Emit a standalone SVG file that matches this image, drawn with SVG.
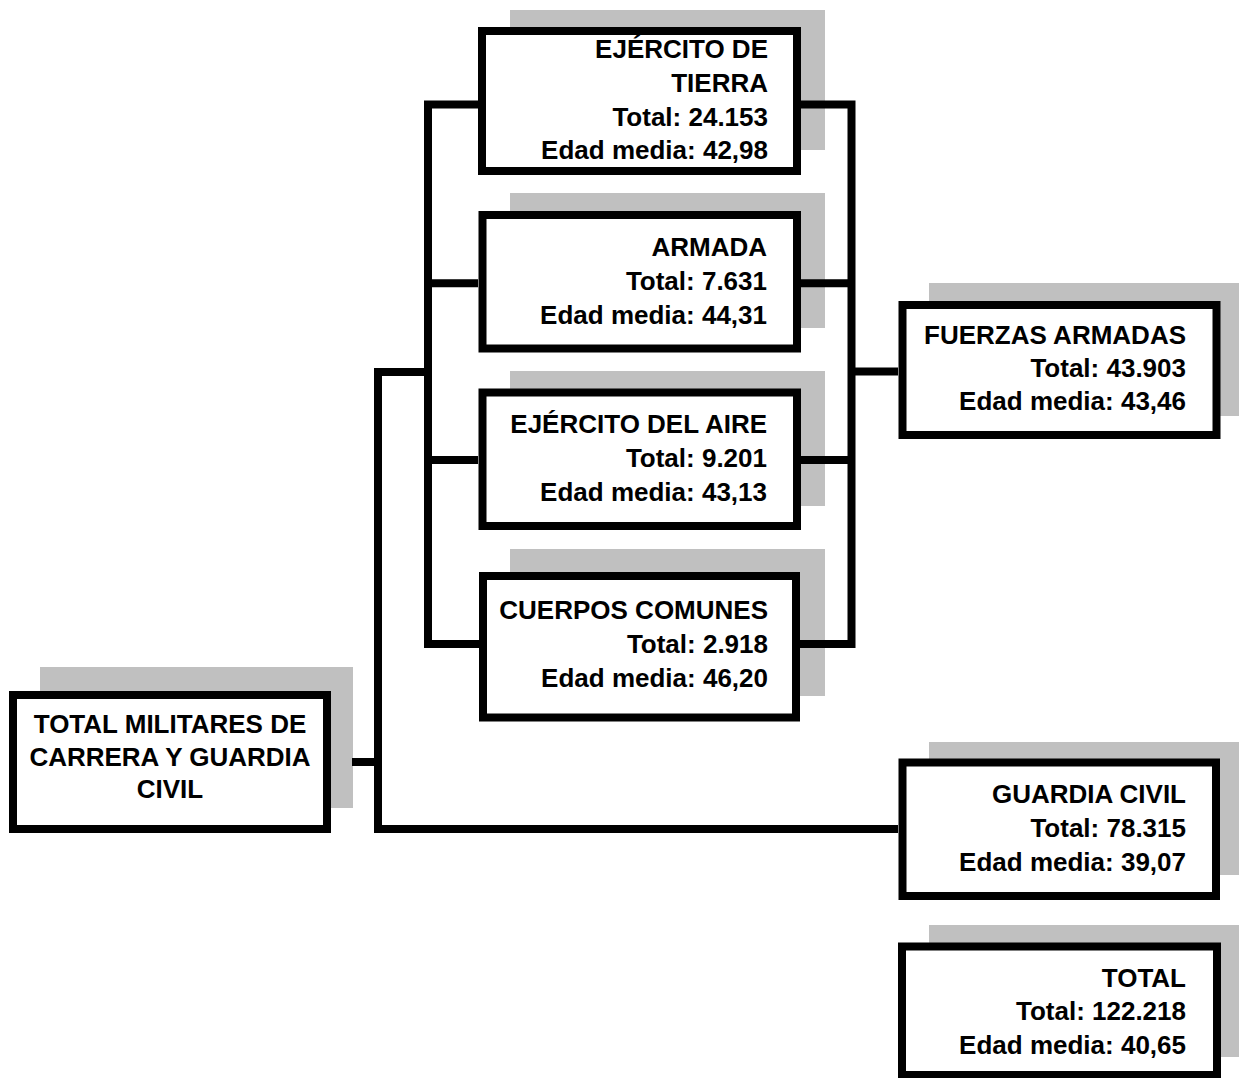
<svg xmlns="http://www.w3.org/2000/svg" width="1239" height="1078" viewBox="0 0 1239 1078">
<style>
.sh{fill:#c0c0c0}
.bx{fill:#fff;stroke:#000;stroke-width:8;stroke-linejoin:miter}
.t{font-family:"Liberation Sans",Arial,sans-serif;font-weight:bold;font-size:26px;fill:#000}
.r{text-anchor:end}
.c{text-anchor:middle}
.cn{fill:none;stroke:#000;stroke-width:8;stroke-linejoin:miter;stroke-linecap:butt}
</style>
<rect width="1239" height="1078" fill="#fff"/>
<g id="shadows">
<rect class="sh" x="510" y="10" width="315" height="140"/>
<rect class="sh" x="510" y="193" width="315" height="135"/>
<rect class="sh" x="510" y="371" width="315" height="135"/>
<rect class="sh" x="510" y="549" width="315" height="147"/>
<rect class="sh" x="40" y="667" width="313" height="141"/>
<rect class="sh" x="929" y="283" width="310" height="133"/>
<rect class="sh" x="929" y="742" width="310" height="133"/>
<rect class="sh" x="929" y="925" width="310" height="132"/>
</g>
<g id="connectors">
<path class="cn" d="M478 104.5H428V644H479"/>
<path class="cn" d="M428 283.3H478M428 460H478"/>
<path class="cn" d="M801 104.5H851.5V644H800"/>
<path class="cn" d="M801 283.3H851.5M801 460H851.5"/>
<path class="cn" d="M851.5 371.5H898"/>
<path class="cn" d="M428 372H378V829H898"/>
<path class="cn" d="M352 762H378"/>
</g>
<g id="tierra">
<rect class="bx" x="482" y="31" width="315" height="140"/>
<text class="t r" x="768" y="58.3">EJÉRCITO DE</text>
<text class="t r" x="768" y="91.9">TIERRA</text>
<text class="t r" x="768" y="125.5">Total: 24.153</text>
<text class="t r" x="768" y="159.1">Edad media: 42,98</text>
</g>
<g id="armada">
<rect class="bx" x="482.5" y="215" width="314.5" height="133.5"/>
<text class="t r" x="767" y="256">ARMADA</text>
<text class="t r" x="767" y="290">Total: 7.631</text>
<text class="t r" x="767" y="324">Edad media: 44,31</text>
</g>
<g id="aire">
<rect class="bx" x="482.5" y="392.5" width="314.5" height="133.5"/>
<text class="t r" x="767" y="433">EJÉRCITO DEL AIRE</text>
<text class="t r" x="767" y="467">Total: 9.201</text>
<text class="t r" x="767" y="501">Edad media: 43,13</text>
</g>
<g id="comunes">
<rect class="bx" x="483" y="576" width="313" height="141.5"/>
<text class="t r" x="768" y="619">CUERPOS COMUNES</text>
<text class="t r" x="768" y="652.5">Total: 2.918</text>
<text class="t r" x="768" y="686.5">Edad media: 46,20</text>
</g>
<g id="total-militares">
<rect class="bx" x="13" y="695" width="314" height="134"/>
<text class="t c" x="170" y="733">TOTAL MILITARES DE</text>
<text class="t c" x="170" y="765.5">CARRERA Y GUARDIA</text>
<text class="t c" x="170" y="798">CIVIL</text>
</g>
<g id="fuerzas">
<rect class="bx" x="902.5" y="305" width="314" height="130"/>
<text class="t r" x="1186" y="344">FUERZAS ARMADAS</text>
<text class="t r" x="1186" y="377">Total: 43.903</text>
<text class="t r" x="1186" y="410">Edad media: 43,46</text>
</g>
<g id="guardia">
<rect class="bx" x="902.5" y="762.5" width="313.5" height="133.5"/>
<text class="t r" x="1186" y="803">GUARDIA CIVIL</text>
<text class="t r" x="1186" y="837">Total: 78.315</text>
<text class="t r" x="1186" y="870.5">Edad media: 39,07</text>
</g>
<g id="total">
<rect class="bx" x="902" y="946.5" width="315" height="128.5"/>
<text class="t r" x="1186" y="986.5">TOTAL</text>
<text class="t r" x="1186" y="1020">Total: 122.218</text>
<text class="t r" x="1186" y="1053.5">Edad media: 40,65</text>
</g>
</svg>
